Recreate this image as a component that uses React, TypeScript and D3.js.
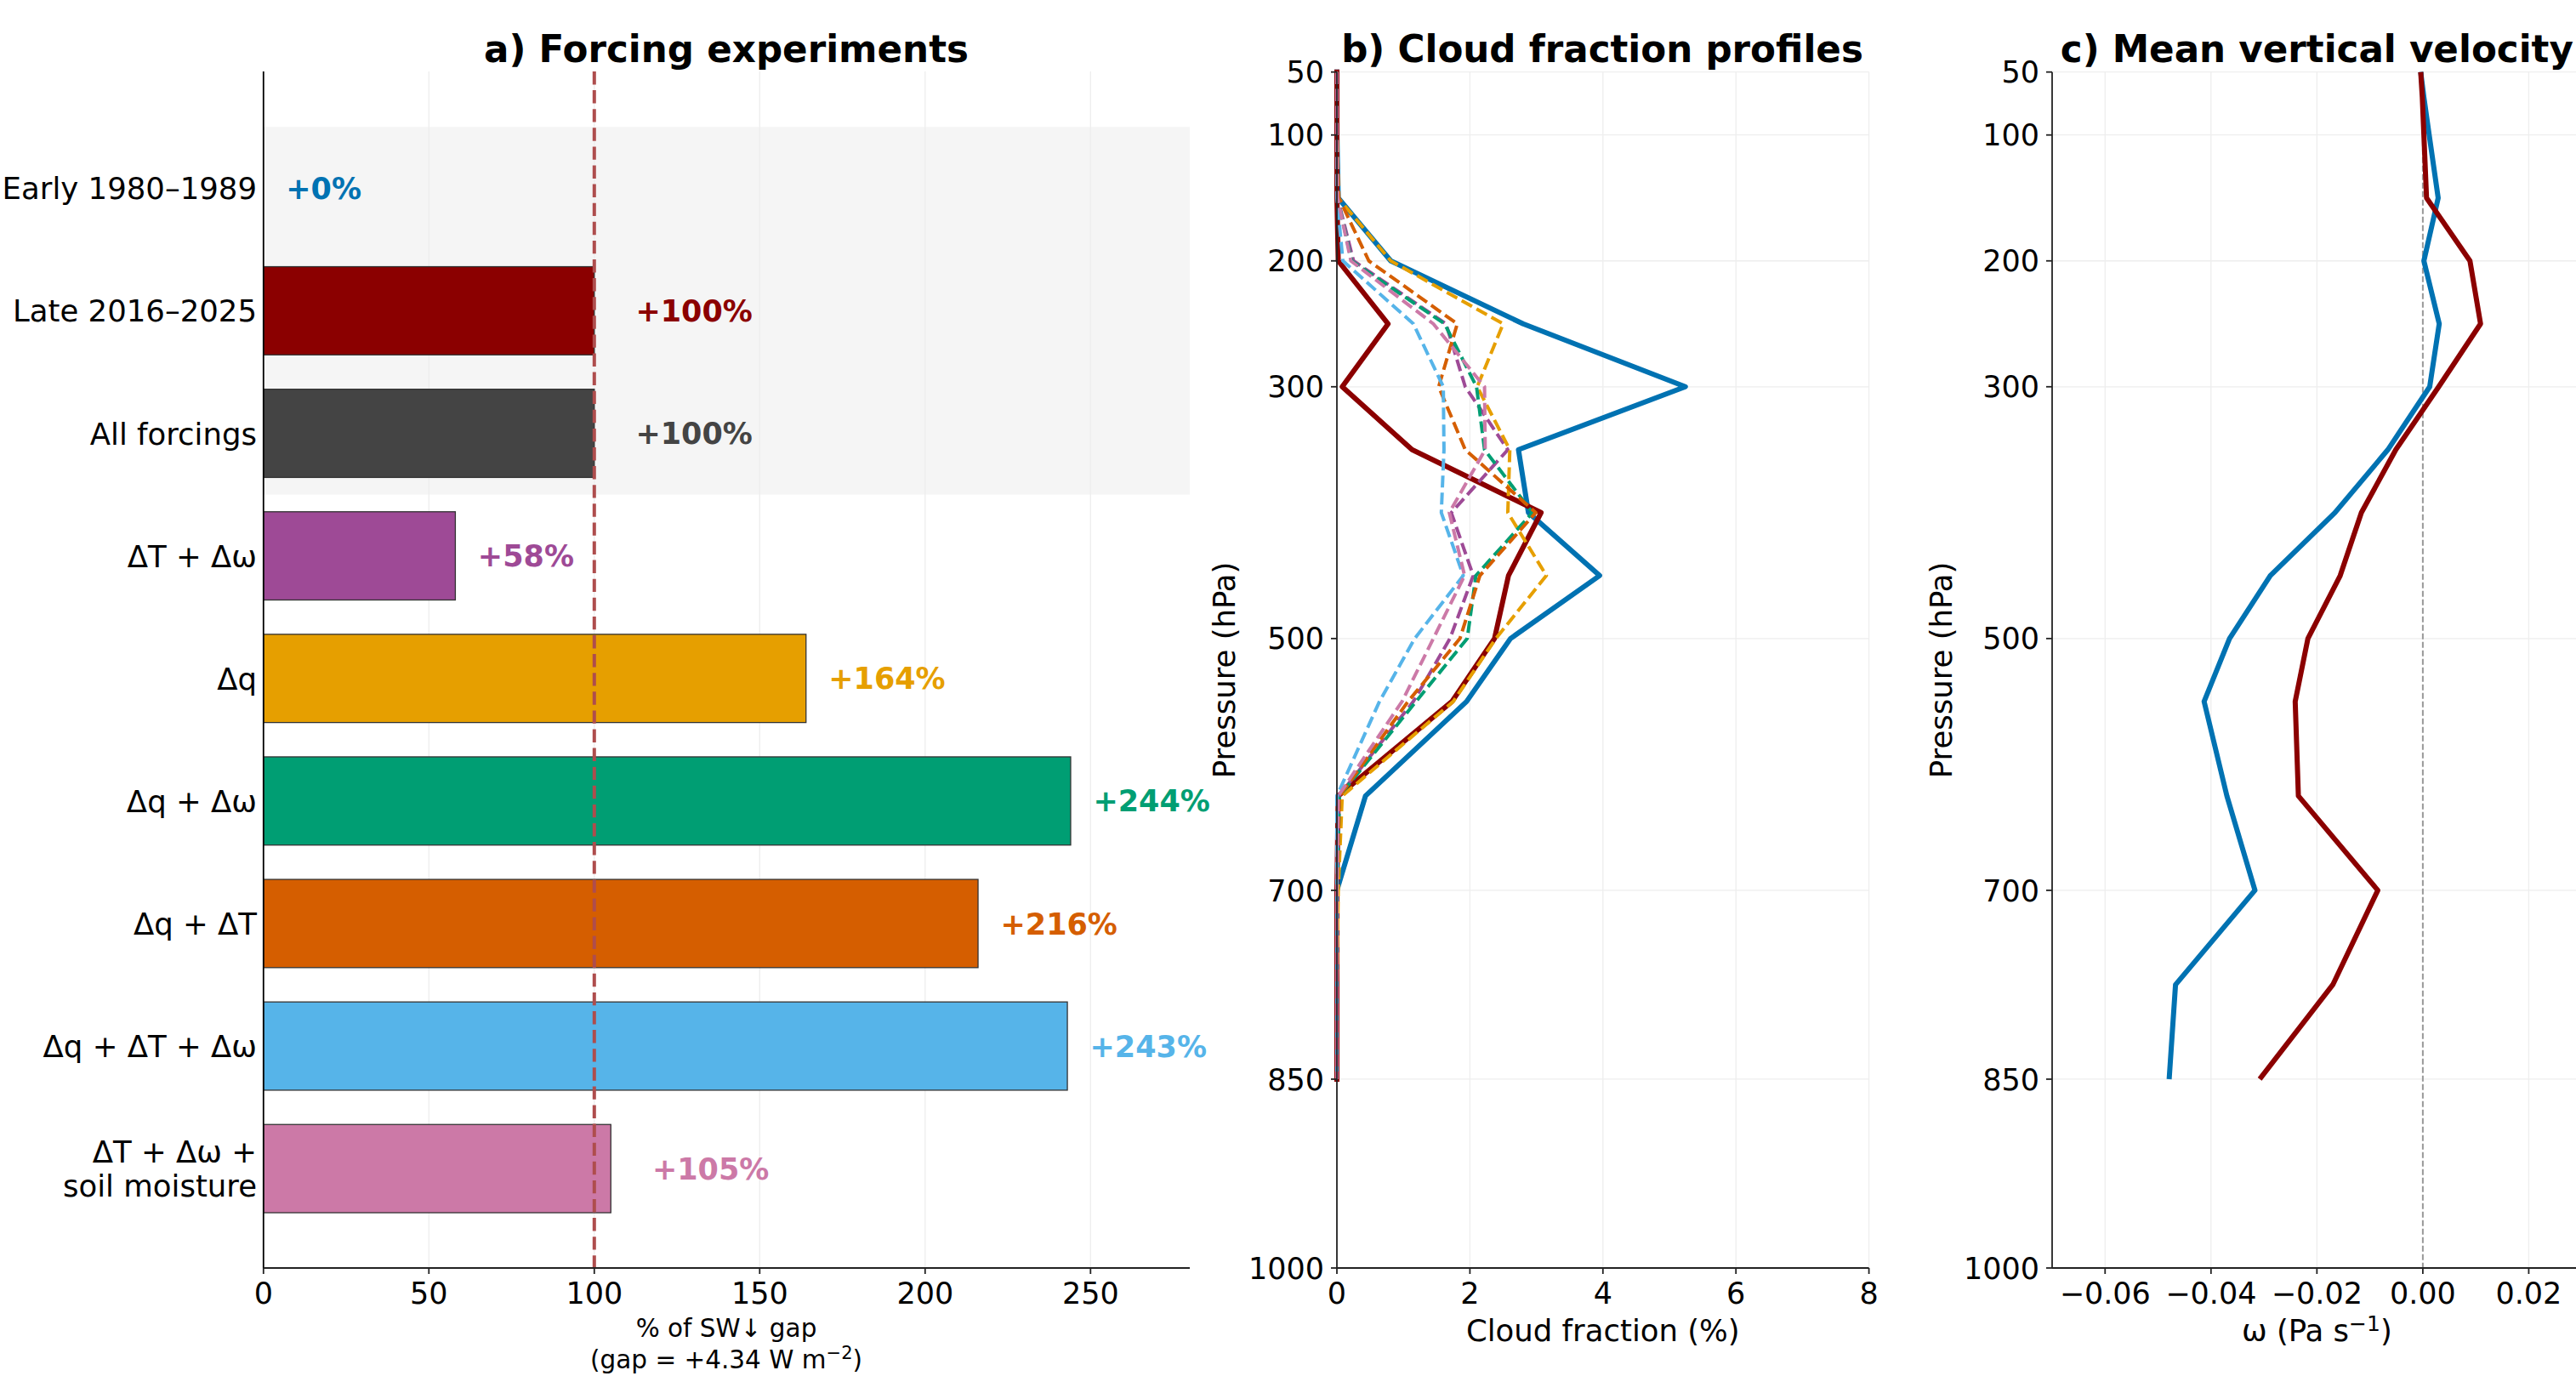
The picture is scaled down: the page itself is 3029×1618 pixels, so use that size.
import React from 'react';
import * as d3 from 'd3';

// ---------- Panel a data ----------
const categories = [
  'Early 1980–1989',
  'Late 2016–2025',
  'All forcings',
  'ΔT + Δω',
  'Δq',
  'Δq + Δω',
  'Δq + ΔT',
  'Δq + ΔT + Δω',
  'ΔT + Δω +\nsoil moisture',
];
const gapPercent = [0, 100, 100, 58, 164, 244, 216, 243, 105];
const barColors = ['#0072B2', '#8B0000', '#444444', '#9E4A96', '#E69F00', '#009E73', '#D55E00', '#56B4E9', '#CC79A7'];
const xTicksA = [0, 50, 100, 150, 200, 250];

// ---------- Panel b / c data ----------
const levels = [50, 70, 100, 150, 200, 250, 300, 350, 400, 450, 500, 550, 625, 700, 775, 850];
const cfEarly = [0, 0, 0, 0.02, 0.81, 2.8, 5.24, 2.73, 2.88, 3.95, 2.61, 1.95, 0.43, 0, 0, 0];
const cfLate = [0, 0, 0, 0, 0.02, 0.77, 0.08, 1.13, 3.07, 2.58, 2.37, 1.73, 0.02, 0, 0, 0];
const cfDT_Dw = [0, 0, 0, 0.01, 0.25, 1.64, 1.93, 2.57, 1.72, 2.05, 1.7, 1.15, 0.03, 0, 0, 0];
const cfDq = [0, 0, 0, 0.02, 0.81, 2.5, 2.11, 2.6, 2.57, 3.15, 2.39, 1.75, 0.08, 0.02, 0, 0];
const cfDq_Dw = [0, 0, 0, 0.01, 0.22, 1.62, 2.1, 2.22, 2.94, 2.09, 1.96, 1.19, 0.04, 0, 0, 0];
const cfDq_DT = [0, 0, 0, 0.03, 0.48, 1.81, 1.53, 1.93, 2.99, 2.15, 1.85, 1.07, 0.04, 0, 0, 0];
const cfDq_DT_Dw = [0, 0, 0, 0, 0.09, 1.15, 1.6, 1.61, 1.57, 1.9, 1.17, 0.64, 0, 0, 0, 0];
const cfSoil = [0, 0, 0, 0.01, 0.21, 1.45, 2.22, 2.23, 1.69, 1.92, 1.45, 0.98, 0.02, 0, 0, 0];

const omegaEarly = [-0.0004, 0.0002, 0.0012, 0.0029, 0.0002, 0.0031, 0.0013, -0.0066, -0.0166, -0.0288, -0.0365, -0.0413, -0.037, -0.0317, -0.0467, -0.0479];
const omegaLate = [-0.0004, -0.0001, 0.0002, 0.0007, 0.0089, 0.0109, 0.003, -0.0051, -0.0116, -0.0156, -0.0217, -0.0241, -0.0235, -0.0085, -0.017, -0.0308];

const pTicks = [50, 100, 200, 300, 500, 700, 850, 1000];
const cfTicks = [0, 2, 4, 6, 8];
const omegaTicks = [-0.06, -0.04, -0.02, 0, 0.02];

const FONT = 'DejaVu Sans, Verdana, sans-serif';
const GRID = '#eeeeee';
const SPINE = '#222';

const fmtOmega = (v: number) => (v < 0 ? '\u2212' : '') + Math.abs(v).toFixed(2);

export default function App() {
  const W = 3029;
  const H = 1618;

  // Panel a scales
  const xA = d3.scaleLinear().domain([0, 280]).range([309.8, 1399]);
  const yA = d3.scaleLinear().domain([-0.953, 8.811]).range([84, 1491]);
  const barH = 0.72;

  // Shared pressure scale
  const yP = d3.scaleLinear().domain([50, 1000]).range([84.7, 1491]);
  const xB = d3.scaleLinear().domain([0, 8]).range([1572, 2197.6]);
  const xC = d3.scaleLinear().domain([-0.07, 0.03]).range([2413, 3035.7]);

  const profiles = [
    { v: cfEarly, color: '#0072B2', dashed: false },
    { v: cfLate, color: '#8B0000', dashed: false },
    { v: cfDT_Dw, color: '#9E4A96', dashed: true },
    { v: cfDq, color: '#E69F00', dashed: true },
    { v: cfDq_Dw, color: '#009E73', dashed: true },
    { v: cfDq_DT, color: '#D55E00', dashed: true },
    { v: cfDq_DT_Dw, color: '#56B4E9', dashed: true },
    { v: cfSoil, color: '#CC79A7', dashed: true },
  ];
  const lineB = (vals: number[]) =>
    d3.line<number>().x((d) => xB(d)).y((_, i) => yP(levels[i]))(vals) || '';
  const lineC = (vals: number[]) =>
    d3.line<number>().x((d) => xC(d)).y((_, i) => yP(levels[i]))(vals) || '';

  const tickFs = 35;
  const catFs = 35.5;
  const labelOffset = (v: number) => (Math.abs(v - 100) < 10 ? 12.5 : 6.8);

  return (
    <svg
      width={W}
      height={H}
      viewBox={`0 0 ${W} ${H}`}
      style={{ position: 'absolute', left: 0, top: 0, background: '#fff' }}
      fontFamily={FONT}
    >
      <rect x={0} y={0} width={W} height={H} fill="#fff" />

      {/* ================= Panel a ================= */}
      <rect x={xA(0)} y={yA(-0.5)} width={xA(280) - xA(0)} height={yA(2.5) - yA(-0.5)} fill="#f5f5f5" />
      {xTicksA.filter((t) => t > 0).map((t) => (
        <line key={'ga' + t} x1={xA(t)} x2={xA(t)} y1={yA.range()[0]} y2={yA.range()[1]} stroke={GRID} strokeWidth={1.3} />
      ))}
      {gapPercent.map((v, i) =>
        v > 0 ? (
          <rect
            key={'bar' + i}
            x={xA(0)}
            y={yA(i - barH / 2)}
            width={xA(v) - xA(0)}
            height={yA(i + barH / 2) - yA(i - barH / 2)}
            fill={barColors[i]}
            stroke="#333"
            strokeWidth={1.3}
          />
        ) : null
      )}
      <line x1={xA(100)} x2={xA(100)} y1={84} y2={1491} stroke="#AE4D4D" strokeWidth={4} strokeDasharray="15.4,6.7" />
      {gapPercent.map((v, i) => (
        <text
          key={'vl' + i}
          x={xA(v + labelOffset(v))}
          y={yA(i) + 12.6}
          fontSize={35}
          fontWeight="bold"
          fill={barColors[i]}
        >
          {`+${v}%`}
        </text>
      ))}
      {categories.map((c, i) => {
        const lines = c.split('\n');
        const n = lines.length;
        return (
          <text key={'cat' + i} x={302} textAnchor="end" fontSize={catFs} fill="#000">
            {lines.map((ln, j) => (
              <tspan key={j} x={302} y={yA(i) + 13 + (j - (n - 1) / 2) * 40.5}>
                {ln}
              </tspan>
            ))}
          </text>
        );
      })}
      {/* spines */}
      <line x1={xA(0)} x2={xA(0)} y1={84} y2={1491} stroke="#000" strokeWidth={1.8} />
      <line x1={xA(0)} x2={xA(280)} y1={1491} y2={1491} stroke={SPINE} strokeWidth={1.8} />
      {xTicksA.map((t) => (
        <g key={'xta' + t}>
          <line x1={xA(t)} x2={xA(t)} y1={1491} y2={1498} stroke={SPINE} strokeWidth={1.8} />
          <text x={xA(t)} y={1533} textAnchor="middle" fontSize={tickFs}>{t}</text>
        </g>
      ))}
      <text x={854} y={1572} textAnchor="middle" fontSize={29.5}>% of SW↓ gap</text>
      <text x={854} y={1609} textAnchor="middle" fontSize={29.5}>
        (gap = +4.34 W m<tspan dy={-11} fontSize={21}>−2</tspan><tspan dy={11}>)</tspan>
      </text>
      <text x={854} y={73} textAnchor="middle" fontSize={43.6} fontWeight="bold">a) Forcing experiments</text>

      {/* ================= Panel b ================= */}
      {cfTicks.map((t) => (
        <line key={'gbx' + t} x1={xB(t)} x2={xB(t)} y1={yP(50)} y2={yP(1000)} stroke={GRID} strokeWidth={1.3} />
      ))}
      {pTicks.map((p) => (
        <line key={'gby' + p} x1={xB(0)} x2={xB(8)} y1={yP(p)} y2={yP(p)} stroke={GRID} strokeWidth={1.3} />
      ))}
      {profiles.map((pr, i) => (
        <path
          key={'pb' + i}
          d={lineB(pr.v)}
          fill="none"
          stroke={pr.color}
          strokeWidth={pr.dashed ? 4 : 6}
          strokeDasharray={pr.dashed ? '14,6' : undefined}
          strokeLinejoin="round"
          strokeLinecap={pr.dashed ? 'butt' : 'square'}
        />
      ))}
      <line x1={xB(0)} x2={xB(0)} y1={yP(50)} y2={yP(1000)} stroke={SPINE} strokeWidth={1.8} />
      <line x1={xB(0)} x2={xB(8)} y1={yP(1000)} y2={yP(1000)} stroke={SPINE} strokeWidth={1.8} />
      {pTicks.map((p) => (
        <g key={'ytb' + p}>
          <line x1={xB(0) - 7} x2={xB(0)} y1={yP(p)} y2={yP(p)} stroke={SPINE} strokeWidth={1.8} />
          <text x={xB(0) - 15} y={yP(p) + 12.6} textAnchor="end" fontSize={tickFs}>{p}</text>
        </g>
      ))}
      {cfTicks.map((t) => (
        <g key={'xtb' + t}>
          <line x1={xB(t)} x2={xB(t)} y1={1491} y2={1498} stroke={SPINE} strokeWidth={1.8} />
          <text x={xB(t)} y={1533} textAnchor="middle" fontSize={tickFs}>{t}</text>
        </g>
      ))}
      <text x={(xB(0) + xB(8)) / 2} y={1577} textAnchor="middle" fontSize={35.5}>Cloud fraction (%)</text>
      <text transform={`translate(1452, ${(yP(50) + yP(1000)) / 2}) rotate(-90)`} textAnchor="middle" fontSize={35.5}>
        Pressure (hPa)
      </text>
      <text x={1884} y={73} textAnchor="middle" fontSize={43.6} fontWeight="bold">b) Cloud fraction profiles</text>

      {/* ================= Panel c ================= */}
      {omegaTicks.filter((t) => t !== 0).map((t) => (
        <line key={'gcx' + t} x1={xC(t)} x2={xC(t)} y1={yP(50)} y2={yP(1000)} stroke={GRID} strokeWidth={1.3} />
      ))}
      {pTicks.map((p) => (
        <line key={'gcy' + p} x1={xC(-0.07)} x2={xC(0.03)} y1={yP(p)} y2={yP(p)} stroke={GRID} strokeWidth={1.3} />
      ))}
      <line x1={xC(0)} x2={xC(0)} y1={yP(50)} y2={yP(1000)} stroke="#999" strokeWidth={2} strokeDasharray="7,3" />
      <path d={lineC(omegaEarly)} fill="none" stroke="#0072B2" strokeWidth={6} strokeLinejoin="round" />
      <path d={lineC(omegaLate)} fill="none" stroke="#8B0000" strokeWidth={6} strokeLinejoin="round" />
      <line x1={xC(-0.07)} x2={xC(-0.07)} y1={yP(50)} y2={yP(1000)} stroke={SPINE} strokeWidth={1.8} />
      <line x1={xC(-0.07)} x2={xC(0.03)} y1={yP(1000)} y2={yP(1000)} stroke={SPINE} strokeWidth={1.8} />
      {pTicks.map((p) => (
        <g key={'ytc' + p}>
          <line x1={xC(-0.07) - 7} x2={xC(-0.07)} y1={yP(p)} y2={yP(p)} stroke={SPINE} strokeWidth={1.8} />
          <text x={xC(-0.07) - 15} y={yP(p) + 12.6} textAnchor="end" fontSize={tickFs}>{p}</text>
        </g>
      ))}
      {omegaTicks.map((t) => (
        <g key={'xtc' + t}>
          <line x1={xC(t)} x2={xC(t)} y1={1491} y2={1498} stroke={SPINE} strokeWidth={1.8} />
          <text x={xC(t)} y={1533} textAnchor="middle" fontSize={tickFs}>{fmtOmega(t)}</text>
        </g>
      ))}
      <text x={xC(-0.02)} y={1577} textAnchor="middle" fontSize={35.5}>
        ω (Pa s<tspan dy={-12} fontSize={25}>−1</tspan><tspan dy={12}>)</tspan>
      </text>
      <text transform={`translate(2295, ${(yP(50) + yP(1000)) / 2}) rotate(-90)`} textAnchor="middle" fontSize={35.5}>
        Pressure (hPa)
      </text>
      <text x={(xC(-0.07) + xC(0.03)) / 2} y={73} textAnchor="middle" fontSize={43.6} fontWeight="bold">
        c) Mean vertical velocity
      </text>
    </svg>
  );
}
